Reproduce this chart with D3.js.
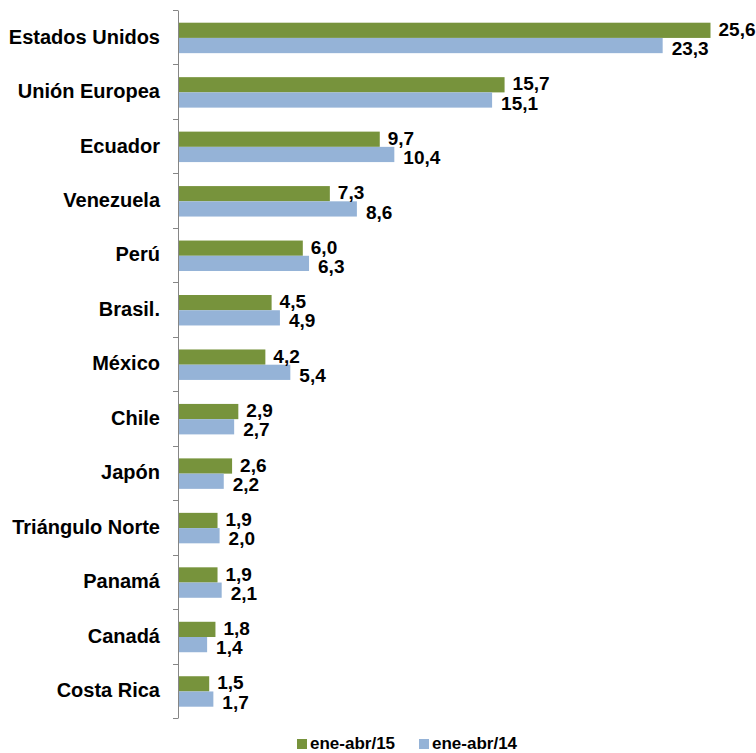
<!DOCTYPE html>
<html>
<head>
<meta charset="utf-8">
<script src="https://cdn.jsdelivr.net/npm/d3@7"></script>
<style>
  body { margin: 0; background: #fff; }
  text { font-family: "Liberation Sans", Arial, sans-serif; font-weight: bold; fill: #000; }
</style>
</head>
<body>
<svg id="chart" width="756" height="753"></svg>
<script>
// Data
const categories = ["Estados Unidos", "Unión Europea", "Ecuador", "Venezuela", "Perú", "Brasil.",
  "México", "Chile", "Japón", "Triángulo Norte", "Panamá", "Canadá", "Costa Rica"];
const values15 = [25.6, 15.7, 9.7, 7.3, 6.0, 4.5, 4.2, 2.9, 2.6, 1.9, 1.9, 1.8, 1.5];
const values14 = [23.3, 15.1, 10.4, 8.6, 6.3, 4.9, 5.4, 2.7, 2.2, 2.0, 2.1, 1.4, 1.7];
const seriesNames = ["ene-abr/15", "ene-abr/14"];

const colors = { s15: "#77933C", s14: "#95B3D7", axis: "#868686" };

const svg = d3.select("#chart");
const fmt = v => d3.format(".1f")(v).replace(".", ",");

const x = d3.scaleLinear().domain([0, 25.6]).range([178, 710.5]);
const y = d3.scaleBand().domain(categories).range([10, 718]);
const inner = d3.scaleBand().domain(seriesNames).range([12.7, y.bandwidth() - 11.3]);

const rows = categories.map((c, i) => ({ cat: c, v15: values15[i], v14: values14[i] }));

// bars
const g = svg.append("g");
const row = g.selectAll(".row").data(rows).enter().append("g")
  .attr("transform", d => `translate(0,${y(d.cat)})`);

row.append("rect")
  .attr("x", x(0)).attr("y", inner(seriesNames[0]))
  .attr("width", d => x(d.v15) - x(0)).attr("height", inner.bandwidth())
  .attr("fill", colors.s15);
row.append("rect")
  .attr("x", x(0)).attr("y", inner(seriesNames[1]))
  .attr("width", d => x(d.v14) - x(0)).attr("height", inner.bandwidth())
  .attr("fill", colors.s14);

// value labels
row.append("text")
  .attr("x", d => x(d.v15) + 8)
  .attr("y", inner(seriesNames[0]) + inner.bandwidth() / 2 - 1)
  .attr("dy", "0.35em").attr("font-size", "19px")
  .text(d => fmt(d.v15));
row.append("text")
  .attr("x", d => x(d.v14) + 9)
  .attr("y", inner(seriesNames[1]) + inner.bandwidth() / 2 + 3)
  .attr("dy", "0.35em").attr("font-size", "19px")
  .text(d => fmt(d.v14));

// axis
const yAxis = svg.append("g").attr("transform", `translate(${x(0)},0)`)
  .call(d3.axisLeft(y).tickSize(0).tickPadding(18).tickSizeOuter(0));
yAxis.select(".domain").attr("stroke", colors.axis);
yAxis.selectAll(".tick text").attr("font-size", "20px")
  .style("font-family", '"Liberation Sans", Arial, sans-serif').style("font-weight", "bold").attr("fill", "#000");

// tick marks between categories
const bounds = categories.map(c => y(c)).concat([y(categories[categories.length - 1]) + y.bandwidth()]);
svg.append("g").selectAll("line").data(bounds).enter().append("line")
  .attr("x1", x(0) - 5).attr("x2", x(0))
  .attr("y1", d => Math.round(d) + 0.5).attr("y2", d => Math.round(d) + 0.5)
  .attr("stroke", colors.axis);

// legend
const legend = svg.append("g").attr("transform", "translate(297,739)");
const items = legend.selectAll("g").data(seriesNames).enter().append("g")
  .attr("transform", (d, i) => `translate(${i * 122},0)`);
items.append("rect").attr("width", 10).attr("height", 10)
  .attr("fill", (d, i) => i === 0 ? colors.s15 : colors.s14);
items.append("text").attr("x", 13).attr("y", 10)
  .attr("font-size", "17px").text(d => d);
</script>
</body>
</html>
